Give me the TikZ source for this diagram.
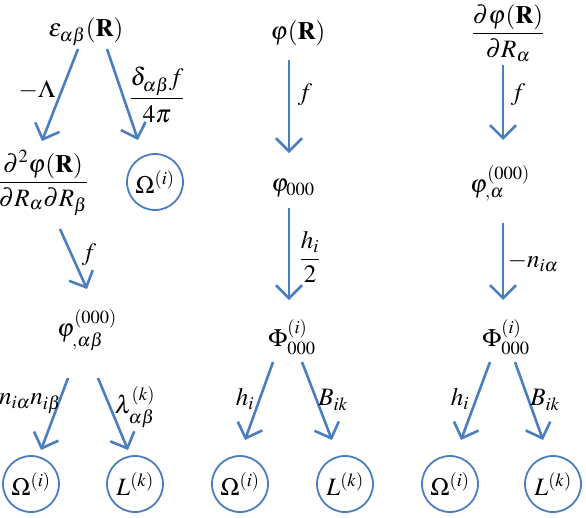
\documentclass[tikz,border=0pt]{standalone}
\usepackage{amsmath}
\usepackage{mathptmx}
\usetikzlibrary{arrows.meta}
\definecolor{lineblue}{RGB}{74,126,193}
\tikzset{
  every node/.style={font=\fontsize{25}{30}\selectfont, inner sep=0pt},
  arr/.style={draw=lineblue, line width=2.6pt, -{Straight Barb[length=13pt,width=26pt,line width=2.6pt]}},
  ring/.style={circle, draw=lineblue, line width=1.8pt, minimum size=56pt, inner sep=0pt},
  lbl/.style={}
}
\begin{document}
\begin{tikzpicture}[x=1pt,y=-1pt]
\useasboundingbox (0,0) rectangle (586,517);
% column 1
\node (e1) at (86,32) {$\varepsilon_{\alpha\beta}(\mathbf{R})$};
\node (d2) at (43,183) {$\dfrac{\partial^2\varphi(\mathbf{R})}{\partial R_\alpha\partial R_\beta}$};
\node[ring] (o1) at (155,182) {$\Omega^{(i)}$};
\node (p1) at (87,330) {$\varphi^{(000)}_{,\alpha\beta}$};
\node[ring] (o2) at (31,484) {$\Omega^{(i)}$};
\node[ring] (l1) at (135,484) {$L^{(k)}$};
% column 2
\node (c2) at (298,33) {$\varphi(\mathbf{R})$};
\node (p0) at (293,188) {$\varphi_{000}$};
\node (F2) at (292,337) {$\Phi^{(i)}_{000}$};
\node[ring] (o3) at (240,484) {$\Omega^{(i)}$};
\node[ring] (l2) at (345,484) {$L^{(k)}$};
% column 3
\node (c3) at (508,33) {$\dfrac{\partial\varphi(\mathbf{R})}{\partial R_\alpha}$};
\node (p3) at (500,183) {$\varphi^{(000)}_{,\alpha}$};
\node (F3) at (506,337) {$\Phi^{(i)}_{000}$};
\node[ring] (o4) at (450,484) {$\Omega^{(i)}$};
\node[ring] (l3) at (553,484) {$L^{(k)}$};
% arrows column 1
\draw[arr] ([shift={(-8,17)}]e1.center) -- ([shift={(-1,-42)}]d2.center);
\draw[arr] ([shift={(21,17)}]e1.center) -- ([shift={(-17,-42)}]o1.center);
\draw[arr] ([shift={(17,46)}]d2.center) -- ([shift={(0,-41)}]p1.center);
\draw[arr] ([shift={(-19,48)}]p1.center) -- ([shift={(10,-34)}]o2.center);
\draw[arr] ([shift={(11,48)}]p1.center) -- ([shift={(-7,-34)}]l1.center);
% arrows column 2
\draw[arr] ([shift={(-9,27)}]c2.center) -- ([shift={(-4,-35)}]p0.center);
\draw[arr] ([shift={(-4,20)}]p0.center) -- ([shift={(-3,-37)}]F2.center);
\draw[arr] ([shift={(-19,25)}]F2.center) -- ([shift={(5,-44)}]o3.center);
\draw[arr] ([shift={(10,25)}]F2.center) -- ([shift={(-13,-44)}]l2.center);
% arrows column 3
\draw[arr] ([shift={(-5,32)}]c3.center) -- ([shift={(3,-43)}]p3.center);
\draw[arr] ([shift={(3,40)}]p3.center) -- ([shift={(-3,-37)}]F3.center);
\draw[arr] ([shift={(-16,25)}]F3.center) -- ([shift={(11,-44)}]o4.center);
\draw[arr] ([shift={(9,25)}]F3.center) -- ([shift={(-10,-44)}]l3.center);
% labels
\node[lbl] (t1) at (37,90) {$-\Lambda$};
\node[lbl] (t2) at (157,95) {$\dfrac{\delta_{\alpha\beta}f}{4\pi}$};
\node[lbl] (t3) at (89,255) {$f$};
\node[lbl] (t4) at (30,404) {$n_{i\alpha}n_{i\beta}$};
\node[lbl] (t5) at (135,407) {$\lambda^{(k)}_{\alpha\beta}$};
\node[lbl] (t6) at (305,95) {$f$};
\node[lbl] (t7) at (310,257) {$\dfrac{h_i}{2}$};
\node[lbl] (t8) at (245,399) {$h_i$};
\node[lbl] (t9) at (333,400) {$B_{ik}$};
\node[lbl] (t10) at (518,95) {$f$};
\node[lbl] (t11) at (533,262) {$-n_{i\alpha}$};
\node[lbl] (t12) at (460,399) {$h_i$};
\node[lbl] (t13) at (545,400) {$B_{ik}$};
\end{tikzpicture}
\end{document}
